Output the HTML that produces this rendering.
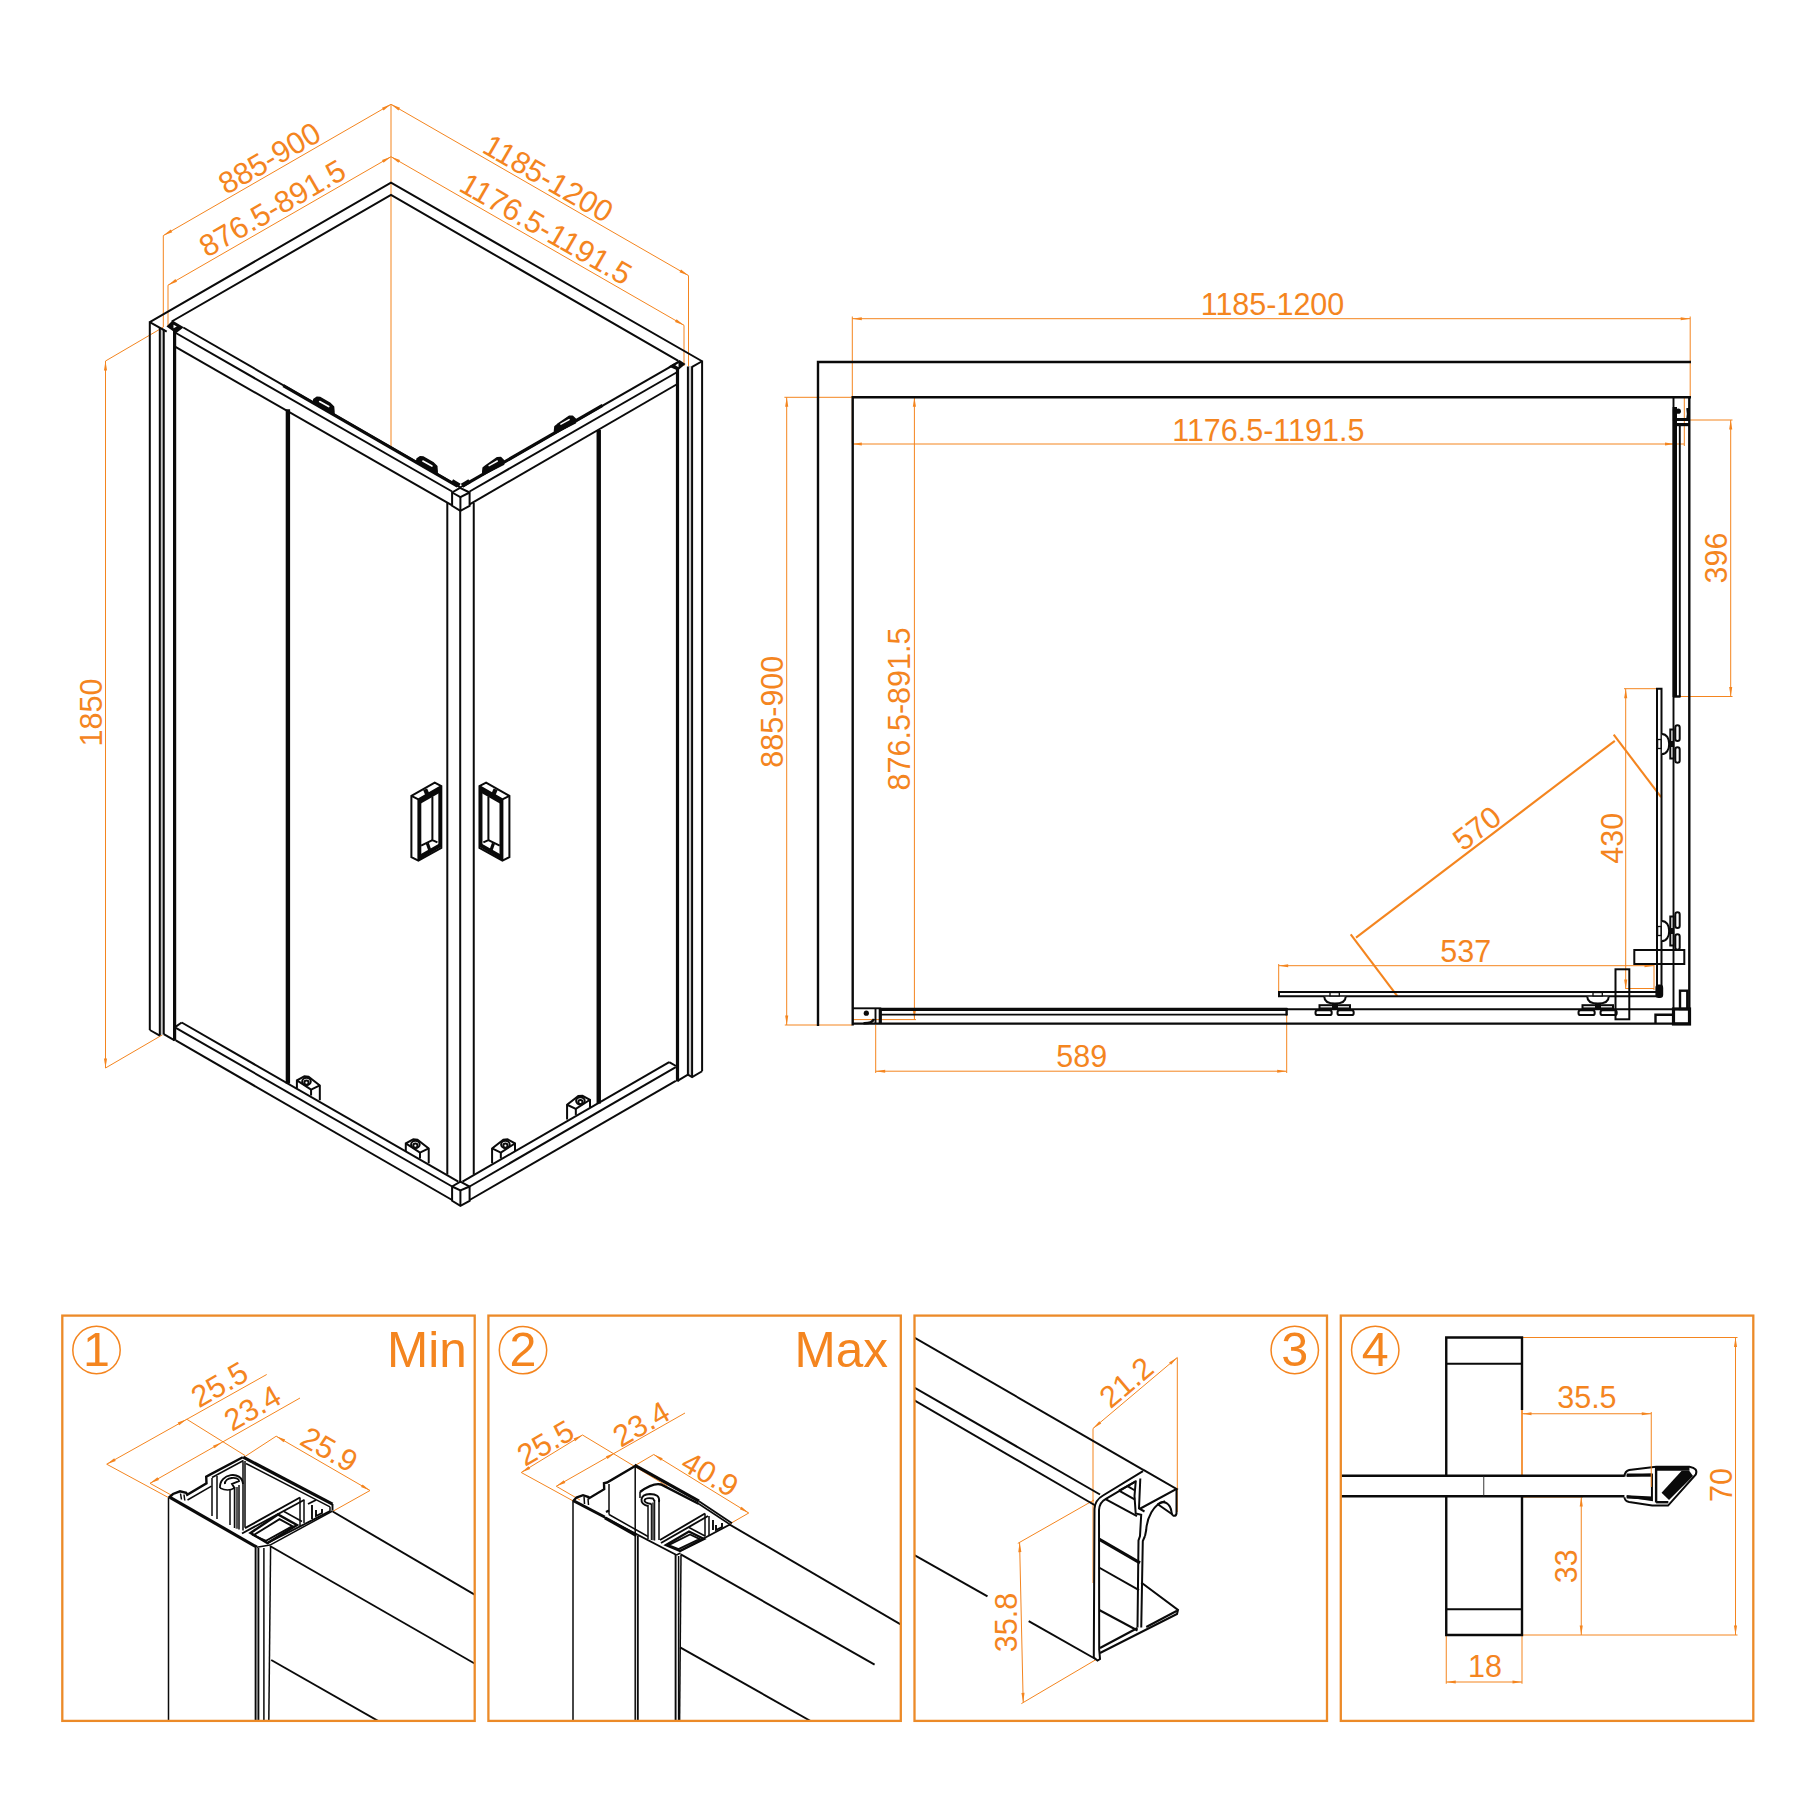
<!DOCTYPE html>
<html lang="en"><head><meta charset="utf-8"><title>Shower enclosure drawing</title>
<style>
html,body{margin:0;padding:0;background:#fff;}
body{width:1800px;height:1800px;overflow:hidden;}
svg{display:block;}
.k{fill:none;stroke:#0a0a0a;stroke-width:2;stroke-linecap:butt;stroke-linejoin:miter;}
.k1{fill:none;stroke:#0a0a0a;stroke-width:1.5;}
.k15{fill:none;stroke:#0a0a0a;stroke-width:1.9;}
.k2{fill:none;stroke:#0a0a0a;stroke-width:2.4;}
.k3{fill:none;stroke:#0a0a0a;stroke-width:3.2;}
.k4{fill:none;stroke:#0a0a0a;stroke-width:4.4;}
.kt{fill:none;stroke:#222;stroke-width:0.9;}
.kf{fill:#0a0a0a;stroke:none;}
.kw{fill:#fff;stroke:#0a0a0a;stroke-width:2;}
.kw1{fill:#fff;stroke:#0a0a0a;stroke-width:1.3;}
.gy{fill:#c8c8c8;stroke:none;}
.o{fill:none;stroke:#F4851F;stroke-width:1;}
.o2{fill:none;stroke:#F4851F;stroke-width:1.7;}
.o25{fill:none;stroke:#F4851F;stroke-width:2.1;}
.af{fill:#F4851F;stroke:none;}
.fr{fill:none;stroke:#EC8A28;stroke-width:2.3;}
.t{fill:#F4851F;font-family:"Liberation Sans",Arial,sans-serif;}
</style></head><body>
<svg width="1800" height="1800" viewBox="0 0 1800 1800">
<rect x="0" y="0" width="1800" height="1800" fill="#fff"/>
<!-- isometric view -->
<path class="o" d="M391.00 104.30L391.00 447.30"/>
<path class="o" d="M163.30 235.60L391.00 104.30"/>
<path class="af" d="M163.30 235.60L170.76 229.51L172.30 232.20Z" />
<path class="af" d="M391.00 104.30L383.54 110.39L382.00 107.70Z" />
<path class="o" d="M163.30 235.60L163.30 327.00"/>
<path class="o" d="M168.00 285.20L391.00 156.70"/>
<path class="af" d="M168.00 285.20L175.46 279.11L177.01 281.80Z" />
<path class="af" d="M391.00 156.70L383.54 162.79L381.99 160.10Z" />
<path class="o" d="M168.00 285.20L168.00 327.00"/>
<path class="o" d="M391.00 104.30L688.50 275.60"/>
<path class="af" d="M391.00 104.30L400.01 107.70L398.46 110.38Z" />
<path class="af" d="M688.50 275.60L679.49 272.20L681.04 269.52Z" />
<path class="o" d="M688.50 275.60L688.50 366.00"/>
<path class="o" d="M391.00 156.70L684.00 325.30"/>
<path class="af" d="M391.00 156.70L400.01 160.09L398.46 162.78Z" />
<path class="af" d="M684.00 325.30L674.99 321.91L676.54 319.22Z" />
<path class="o" d="M684.00 325.30L684.00 366.00"/>
<path class="o" d="M105.50 361.00L105.50 1068.00"/>
<path class="af" d="M105.50 361.00L107.05 370.50L103.95 370.50Z" />
<path class="af" d="M105.50 1068.00L103.95 1058.50L107.05 1058.50Z" />
<path class="o" d="M105.50 361.00L163.30 327.20"/>
<path class="o" d="M105.50 1068.00L162.50 1034.80"/>
<text class="t" font-size="30.5" text-anchor="middle" transform="translate(274.71 167.36) rotate(-30)">885-900</text>
<text class="t" font-size="30.5" text-anchor="middle" transform="translate(277.61 217.36) rotate(-30)">876.5-891.5</text>
<text class="t" font-size="30.5" text-anchor="middle" transform="translate(542.89 187.48) rotate(30)">1185-1200</text>
<text class="t" font-size="30.5" text-anchor="middle" transform="translate(540.79 237.98) rotate(30)">1176.5-1191.5</text>
<text class="t" font-size="30.5" text-anchor="middle" transform="translate(101.72 712.50) rotate(-90)">1850</text>
<path class="k" d="M149.80 322.10L391.00 182.70L702.10 361.25" />
<path class="k" d="M171.70 321.50L391.00 195.00L678.30 360.80" />
<rect class="gy" x="159.80" y="328.00" width="3.95" height="707.00" />
<path class="k" d="M149.80 321.30L149.80 1030.00"/>
<path class="k" d="M159.80 328.00L159.80 1035.40"/>
<path class="k" d="M163.75 329.50L163.75 1034.20"/>
<path class="k3" d="M174.60 331.00L174.60 1040.80"/>
<path class="k" d="M149.80 322.10L166.70 331.60"/>
<path class="k" d="M149.80 1030.00L159.80 1035.60" />
<path class="k" d="M163.75 1034.20L174.60 1040.40" />
<path class="kf" d="M166.50 326.50L172.50 320.60L183.80 327.20L176.00 333.30Z" />
<path class="" d="M173.50 324.80L176.80 326.60L173.50 328.20Z" fill="#fff"/>
<rect class="gy" x="687.90" y="366.00" width="4.20" height="710.00" />
<path class="k3" d="M677.50 364.00L677.50 1081.40"/>
<path class="k" d="M687.90 366.50L687.90 1074.60"/>
<path class="k" d="M692.10 366.70L692.10 1077.00"/>
<path class="k" d="M702.10 360.50L702.10 1071.25"/>
<path class="k" d="M702.10 361.25L691.70 367.20"/>
<path class="k" d="M677.50 1080.80L687.90 1074.60L692.10 1077.00L702.10 1071.25" />
<path class="kf" d="M668.50 366.50L679.50 360.00L685.50 364.00L677.80 370.50Z" />
<path class="" d="M675.30 365.30L678.50 363.30L678.50 367.20Z" fill="#fff"/>
<path class="k" d="M183.30 327.50L460.00 487.20"/>
<path class="k3" d="M283.30 385.60L457.50 486.20"/>
<path class="k" d="M175.00 332.50L452.10 491.50"/>
<path class="k" d="M175.00 346.70L452.10 505.30"/>
<path class="k" d="M460.00 487.50L675.00 364.20"/>
<path class="k3" d="M462.50 486.20L602.50 405.30"/>
<path class="k" d="M469.60 491.50L676.50 372.50"/>
<path class="k" d="M469.60 504.30L676.50 384.50"/>
<path class="kw" d="M460.00 487.90L469.60 492.50L469.60 505.80L460.40 510.80L452.10 505.80L452.10 492.50Z" />
<path class="k" d="M452.10 492.50L460.40 497.10L469.60 492.50" />
<path class="k" d="M460.40 497.10L460.40 510.80"/>
<path class="k" d="M447.30 503.00L447.30 1174.50"/>
<path class="k" d="M460.20 510.80L460.20 1182.00"/>
<path class="k" d="M473.75 503.00L473.75 1174.50"/>
<path class="kw" d="M405.80 1151.28L405.80 1143.37L413.30 1139.37L417.47 1139.62L428.72 1148.37L428.72 1163.20" />
<path class="k" d="M405.80 1143.37L419.97 1152.53L428.72 1148.37" />
<path class="k" d="M419.97 1152.53L419.97 1158.53"/>
<ellipse class="kw" cx="415.38" cy="1144.45" rx="4.3" ry="3.6"/>
<circle class="k" cx="415.38" cy="1145.70" r="2.10" />
<path class="kw" d="M296.90 1088.28L296.90 1080.37L304.40 1076.37L308.57 1076.62L319.82 1085.37L319.82 1100.20" />
<path class="k" d="M296.90 1080.37L311.07 1089.53L319.82 1085.37" />
<path class="k" d="M311.07 1089.53L311.07 1095.53"/>
<ellipse class="kw" cx="306.48" cy="1081.45" rx="4.3" ry="3.6"/>
<circle class="k" cx="306.48" cy="1082.70" r="2.10" />
<path class="kw" d="M515.00 1151.28L515.00 1143.37L507.50 1139.37L503.33 1139.62L492.08 1148.37L492.08 1163.20" />
<path class="k" d="M515.00 1143.37L500.83 1152.53L492.08 1148.37" />
<path class="k" d="M500.83 1152.53L500.83 1158.53"/>
<ellipse class="kw" cx="505.42" cy="1144.45" rx="4.3" ry="3.6"/>
<circle class="k" cx="505.42" cy="1145.70" r="2.10" />
<path class="kw" d="M590.00 1107.68L590.00 1099.77L582.50 1095.77L578.33 1096.02L567.08 1104.77L567.08 1119.60" />
<path class="k" d="M590.00 1099.77L575.83 1108.93L567.08 1104.77" />
<path class="k" d="M575.83 1108.93L575.83 1114.93"/>
<ellipse class="kw" cx="580.42" cy="1100.85" rx="4.3" ry="3.6"/>
<circle class="k" cx="580.42" cy="1102.10" r="2.10" />
<path class="k" d="M181.70 1022.50L458.30 1181.70"/>
<path class="k" d="M175.80 1026.60L181.70 1022.50"/>
<path class="k" d="M175.80 1027.90L452.10 1186.50"/>
<path class="k" d="M175.80 1040.40L452.10 1200.00"/>
<path class="k" d="M462.50 1181.70L669.20 1062.10"/>
<path class="k" d="M669.20 1062.10L676.00 1066.00"/>
<path class="k" d="M469.60 1186.50L675.80 1067.10"/>
<path class="k" d="M469.60 1200.00L675.80 1080.80"/>
<path class="kw" d="M460.40 1181.70L469.60 1186.50L469.60 1200.80L460.40 1205.80L452.10 1200.80L452.10 1186.50Z" />
<path class="k" d="M452.10 1186.50L460.40 1190.50L469.60 1186.50" />
<path class="k" d="M460.40 1190.50L460.40 1205.80"/>
<path class="k4" d="M287.90 409.20L287.90 1083.60"/>
<path class="k4" d="M598.75 430.00L598.75 1103.50"/>
<path class="" d="M313.50 402.20L313.90 399.40L316.80 397.30L320.20 397.60L330.20 403.50L333.50 406.80L333.90 411.60L333.90 414.00Z" fill="#0a0a0a" stroke="#0a0a0a" stroke-width="1.6" stroke-linejoin="round"/>
<path class="" d="M319.70 401.60L328.70 406.60" stroke="#fff" stroke-width="1.7" stroke-linecap="round" fill="none"/>
<path class="" d="M416.70 461.70L417.10 458.90L420.00 456.80L423.40 457.10L433.40 463.00L436.70 466.30L437.10 471.10L437.10 473.50Z" fill="#0a0a0a" stroke="#0a0a0a" stroke-width="1.6" stroke-linejoin="round"/>
<path class="" d="M422.90 461.10L431.90 466.10" stroke="#fff" stroke-width="1.7" stroke-linecap="round" fill="none"/>
<path class="" d="M575.40 422.80L575.40 419.05L572.50 416.20L569.15 416.30L557.50 424.50L555.00 426.55L554.60 430.30L554.60 433.30Z" fill="#0a0a0a" stroke="#0a0a0a" stroke-width="1.6" stroke-linejoin="round"/>
<path class="" d="M569.10 419.60L560.90 424.20" stroke="#fff" stroke-width="1.5" stroke-linecap="round" fill="none"/>
<path class="" d="M503.60 464.20L503.60 460.45L500.70 457.60L497.35 457.70L485.70 465.90L483.20 467.95L482.80 471.70L482.80 474.70Z" fill="#0a0a0a" stroke="#0a0a0a" stroke-width="1.6" stroke-linejoin="round"/>
<path class="" d="M497.30 461.00L489.10 465.60" stroke="#fff" stroke-width="1.5" stroke-linecap="round" fill="none"/>
<path class="k4" d="M452.00 481.20L459.50 485.60"/>
<path class="k4" d="M462.00 485.60L469.50 481.20"/>
<path class="kw" d="M411.39 795.78L434.72 782.56L441.33 786.06L441.33 847.89L418.39 860.72L411.39 857.22Z" />
<path class="k" d="M411.39 795.78L418.39 799.28L441.33 786.06" />
<path class="k" d="M418.39 799.28L418.39 860.72" />
<path class="k3" d="M419.71 800.44L439.93 788.93L439.93 845.95L419.71 857.61Z" />
<path class="k3" d="M419.71 802.39L439.93 790.88" />
<path class="k2" d="M419.71 856.06L439.93 844.62" />
<path class="k" d="M432.39 796.56L432.39 840.11L437.44 842.45" />
<path class="k" d="M421.11 845.56L432.39 840.11" />
<path class="k3" d="M427.33 843.22L430.06 851.00" />
<path class="k4" d="M425.16 789.24L427.33 794.38" />
<path class="kw" d="M509.41 795.78L486.08 782.56L479.47 786.06L479.47 847.89L502.41 860.72L509.41 857.22Z" />
<path class="k" d="M509.41 795.78L502.41 799.28L479.47 786.06" />
<path class="k" d="M502.41 799.28L502.41 860.72" />
<path class="k3" d="M501.09 800.44L480.87 788.93L480.87 845.95L501.09 857.61Z" />
<path class="k3" d="M501.09 802.39L480.87 790.88" />
<path class="k2" d="M501.09 856.06L480.87 844.62" />
<path class="k" d="M488.41 796.56L488.41 840.11L483.36 842.45" />
<path class="k" d="M499.69 845.56L488.41 840.11" />
<path class="k3" d="M493.47 843.22L490.74 851.00" />
<path class="k4" d="M495.64 789.24L493.47 794.38" />
<!-- plan view -->
<path class="o" d="M852.30 318.70L1690.20 318.70"/>
<path class="af" d="M852.30 318.70L861.80 317.15L861.80 320.25Z" />
<path class="af" d="M1690.20 318.70L1680.70 320.25L1680.70 317.15Z" />
<path class="o" d="M852.30 316.50L852.30 443.50"/>
<path class="o" d="M1690.20 316.50L1690.20 397.00"/>
<text class="t" font-size="30.5" text-anchor="middle" transform="translate(1272.50 315.42) rotate(0)">1185-1200</text>
<path class="o" d="M852.30 444.00L1674.50 444.00"/>
<path class="af" d="M852.30 444.00L861.80 442.45L861.80 445.55Z" />
<path class="af" d="M1674.50 444.00L1665.00 445.55L1665.00 442.45Z" />
<path class="o" d="M1684.30 397.00L1684.30 446.00"/>
<path class="o" d="M1673.50 444.00L1684.30 444.00"/>
<text class="t" font-size="30.5" text-anchor="middle" transform="translate(1268.30 441.22) rotate(0)">1176.5-1191.5</text>
<path class="o" d="M786.70 397.30L786.70 1025.00"/>
<path class="af" d="M786.70 397.30L788.25 406.80L785.15 406.80Z" />
<path class="af" d="M786.70 1025.00L785.15 1015.50L788.25 1015.50Z" />
<path class="o" d="M784.40 397.30L852.50 397.30"/>
<path class="o" d="M784.80 1025.00L852.50 1025.00"/>
<text class="t" font-size="30.5" text-anchor="middle" transform="translate(782.62 711.70) rotate(-90)">885-900</text>
<path class="o" d="M914.40 397.30L914.40 1019.60"/>
<path class="af" d="M914.40 397.30L915.95 406.80L912.85 406.80Z" />
<path class="af" d="M914.40 1019.60L912.85 1010.10L915.95 1010.10Z" />
<path class="o" d="M852.50 1019.60L916.00 1019.60"/>
<path class="o" d="M904.00 397.30L916.00 397.30"/>
<text class="t" font-size="30.5" text-anchor="middle" transform="translate(910.22 709.00) rotate(-90)">876.5-891.5</text>
<path class="o" d="M1730.70 420.00L1730.70 696.50"/>
<path class="af" d="M1730.70 420.00L1732.25 429.50L1729.15 429.50Z" />
<path class="af" d="M1730.70 696.50L1729.15 687.00L1732.25 687.00Z" />
<path class="o" d="M1690.00 420.00L1732.50 420.00"/>
<path class="o" d="M1680.00 696.50L1732.50 696.50"/>
<text class="t" font-size="30.5" text-anchor="middle" transform="translate(1726.72 558.00) rotate(-90)">396</text>
<path class="o" d="M1625.70 688.70L1625.70 989.00"/>
<path class="af" d="M1625.70 688.70L1627.25 698.20L1624.15 698.20Z" />
<path class="af" d="M1625.70 989.00L1624.15 979.50L1627.25 979.50Z" />
<path class="o" d="M1624.00 688.70L1657.00 688.70"/>
<path class="o" d="M1625.70 988.50L1654.00 988.50"/>
<text class="t" font-size="30.5" text-anchor="middle" transform="translate(1623.42 838.30) rotate(-90)">430</text>
<path class="o" d="M1278.70 965.70L1654.00 965.70"/>
<path class="af" d="M1278.70 965.70L1288.20 964.15L1288.20 967.25Z" />
<path class="af" d="M1654.00 965.70L1644.50 967.25L1644.50 964.15Z" />
<path class="o" d="M1278.70 964.00L1278.70 996.00"/>
<path class="o" d="M1654.00 964.00L1654.00 990.00"/>
<text class="t" font-size="30.5" text-anchor="middle" transform="translate(1465.80 961.72) rotate(0)">537</text>
<path class="o" d="M875.70 1071.20L1286.70 1071.20"/>
<path class="af" d="M875.70 1071.20L885.20 1069.65L885.20 1072.75Z" />
<path class="af" d="M1286.70 1071.20L1277.20 1072.75L1277.20 1069.65Z" />
<path class="o" d="M875.70 1025.00L875.70 1073.00"/>
<path class="o" d="M1286.70 1014.00L1286.70 1073.00"/>
<text class="t" font-size="30.5" text-anchor="middle" transform="translate(1081.70 1066.72) rotate(0)">589</text>
<path class="o25" d="M1356.00 937.70L1614.80 740.80"/>
<path class="o25" d="M1613.70 734.60L1661.10 797.20"/>
<path class="o25" d="M1350.70 934.30L1397.30 996.20"/>
<text class="t" font-size="30.5" text-anchor="middle" transform="translate(1483.32 836.69) rotate(-37.3)">570</text>
<path class="k2" d="M818.00 1026.00L818.00 362.00L1691.00 362.00" />
<path class="k2" d="M852.70 1025.50L852.70 397.30L1691.00 397.30" />
<path class="k2" d="M852.90 1023.60L1690.00 1023.60"/>
<path class="k" d="M881.00 1009.20L1674.00 1009.20"/>
<path class="k15" d="M852.90 1008.30L881.20 1008.30" />
<path class="k3" d="M880.30 1008.30L880.30 1024.00"/>
<path class="k15" d="M875.50 1008.30L875.50 1024.00"/>
<circle class="kf" cx="866.30" cy="1013.20" r="2.60" />
<path class="k2" d="M863.5 1023.2 Q872 1023.5 874 1019" />
<path class="k3" d="M881.00 1009.30L1287.30 1009.30"/>
<path class="k15" d="M881.00 1014.60L1287.30 1014.60"/>
<path class="k2" d="M1286.60 1008.00L1286.60 1015.40"/>
<path class="k" d="M1657 992 L1279 992 L1279 996.3 L1657 996.3" />
<path class="kw" d="M1324.3 996.8 C1324.3 1001.5 1329 1003.6 1335 1003.6 C1341 1003.6 1345.7 1001.5 1345.7 996.8" />
<rect class="kw1" x="1330.00" y="992.50" width="9.30" height="3.40" />
<rect class="kw" x="1319.50" y="1005.20" width="30.50" height="3.20" />
<rect class="kf" x="1332.00" y="1003.60" width="6.00" height="5.00" />
<rect class="kw" x="1315.50" y="1010.30" width="16.20" height="4.80" rx="2.2"/>
<rect class="kw" x="1337.50" y="1010.30" width="16.20" height="4.80" rx="2.2"/>
<path class="kw" d="M1587.3 996.8 C1587.3 1001.5 1592 1003.6 1598 1003.6 C1604 1003.6 1608.7 1001.5 1608.7 996.8" />
<rect class="kw1" x="1593.00" y="992.50" width="9.30" height="3.40" />
<rect class="kw" x="1582.50" y="1005.20" width="30.50" height="3.20" />
<rect class="kf" x="1595.00" y="1003.60" width="6.00" height="5.00" />
<rect class="kw" x="1578.50" y="1010.30" width="16.20" height="4.80" rx="2.2"/>
<rect class="kw" x="1600.50" y="1010.30" width="16.20" height="4.80" rx="2.2"/>
<path class="k2" d="M1689.30 396.90L1689.30 1024.00"/>
<path class="k15" d="M1673.50 397.00L1673.50 1024.00"/>
<path class="k4" d="M1674.80 407.00L1674.80 697.00"/>
<path class="k15" d="M1679.80 425.00L1679.80 697.00"/>
<path class="k2" d="M1674.00 696.50L1680.50 696.50"/>
<path class="k3" d="M1674.5 409 L1674.5 419.5 L1689 419.5" />
<path class="k3" d="M1674.00 424.60L1689.00 424.60"/>
<circle class="kf" cx="1678.30" cy="411.20" r="2.60" />
<path class="k3" d="M1687.8 408 Q1689 414 1687.8 419" />
<path class="k" d="M1657 990 L1657 688.8 L1661.5 688.8 L1661.5 990" />
<rect class="kf" x="1655.40" y="984.60" width="7.80" height="13.40" rx="3.2"/>
<path class="kw" d="M1661.9 734 C1666.5 734 1669.2 738.5 1669.2 744 C1669.2 749.5 1666.5 754 1661.9 754" />
<rect class="kw1" x="1657.60" y="739.50" width="3.40" height="9.00" />
<rect class="kw" x="1670.30" y="729.50" width="3.20" height="29.00" />
<rect class="kf" x="1668.60" y="741.00" width="5.00" height="6.00" />
<rect class="kw" x="1675.30" y="725.30" width="4.40" height="15.60" rx="2.2"/>
<rect class="kw" x="1675.30" y="747.20" width="4.40" height="15.60" rx="2.2"/>
<path class="kw" d="M1661.9 921 C1666.5 921 1669.2 925.5 1669.2 931 C1669.2 936.5 1666.5 941 1661.9 941" />
<rect class="kw1" x="1657.60" y="926.50" width="3.40" height="9.00" />
<rect class="kw" x="1670.30" y="916.50" width="3.20" height="29.00" />
<rect class="kf" x="1668.60" y="928.00" width="5.00" height="6.00" />
<rect class="kw" x="1675.30" y="912.30" width="4.40" height="15.60" rx="2.2"/>
<rect class="kw" x="1675.30" y="934.20" width="4.40" height="15.60" rx="2.2"/>
<rect class="k" x="1634.30" y="950.00" width="50.00" height="14.00" />
<rect class="k" x="1615.50" y="969.30" width="13.80" height="50.00" />
<rect class="k3" x="1673.50" y="1009.00" width="16.00" height="15.00" />
<rect class="k2" x="1680.00" y="990.70" width="7.30" height="18.30" />
<path class="k2" d="M1655.5 1023.3 L1655.5 1014.8 L1673.3 1014.8" />
<!-- detail panels -->
<clipPath id="cp0"><rect x="62.3" y="1315.6" width="412.4" height="405.3000000000002"/></clipPath>
<g clip-path="url(#cp0)">
<path class="o" d="M106.70 1464.20L168.30 1497.50"/>
<path class="o" d="M186.70 1419.20L245.00 1455.50"/>
<path class="o" d="M106.70 1464.20L266.70 1374.50"/>
<path class="af" d="M106.70 1464.20L114.23 1458.20L115.74 1460.90Z" />
<path class="af" d="M186.70 1419.20L179.17 1425.20L177.66 1422.50Z" />
<path class="o" d="M150.00 1483.30L300.00 1398.00"/>
<path class="o" d="M150.00 1483.30L172.50 1495.80"/>
<path class="af" d="M150.00 1483.30L157.48 1477.25L159.02 1479.94Z" />
<path class="af" d="M222.00 1442.30L214.52 1448.35L212.98 1445.66Z" />
<path class="o" d="M245.00 1456.50L276.20 1436.20"/>
<path class="o" d="M276.20 1436.20L370.00 1490.50"/>
<path class="o" d="M332.50 1511.50L370.00 1490.50"/>
<path class="af" d="M276.20 1436.20L285.20 1439.61L283.65 1442.29Z" />
<path class="af" d="M370.00 1490.50L361.00 1487.09L362.55 1484.41Z" />
<text class="t" font-size="30.5" text-anchor="middle" transform="translate(224.76 1393.63) rotate(-30)">25.5</text>
<text class="t" font-size="30.5" text-anchor="middle" transform="translate(257.66 1417.13) rotate(-30)">23.4</text>
<text class="t" font-size="30.5" text-anchor="middle" transform="translate(324.04 1458.49) rotate(30)">25.9</text>
<path class="k1" d="M168.50 1498.00L168.50 1722.00"/>
<path class="k15" d="M332.70 1511.50L476.00 1595.50"/>
<path class="k15" d="M270.00 1546.00L476.00 1664.30"/>
<path class="k15" d="M271.20 1660.00L380.00 1722.00"/>
<path class="k15" d="M255.60 1548.00L255.60 1722.00"/>
<path class="k15" d="M258.40 1548.00L258.40 1722.00"/>
<path class="k1" d="M263.90 1548.00L263.90 1722.00"/>
<path class="k1" d="M270.60 1546.50L268.80 1722.00"/>
<path class="k3" d="M170.00 1497.30L256.80 1547.20" />
<path class="k1" d="M256.80 1547.20L270.00 1545.00" />
<path class="k2" d="M168.50 1497.80L173.00 1494.00L180.00 1491.30L186.20 1492.80L187.20 1494.80L206.50 1483.40L206.20 1476.60L210.00 1474.60L242.80 1457.20" />
<path class="k1" d="M180.50 1493.50L181.50 1499.50" />
<path class="k1" d="M184.00 1494.50L184.80 1500.50" />
<path class="k1" d="M187.50 1500.00L211.50 1486.20" />
<path class="k1" d="M212.00 1477.50L243.50 1460.50" />
<path class="k3" d="M243.20 1457.20L332.50 1504.20" />
<path class="k1" d="M246.00 1463.50L330.00 1506.80" />
<path class="k15" d="M332.50 1504.00L332.50 1510.50" />
<path class="k1" d="M330.00 1506.80L330.00 1511.20" />
<path class="k1" d="M245.00 1461.00L245.00 1527.50"/>
<path class="k1" d="M212.00 1478.00L212.00 1516.00"/>
<path class="k1" d="M217.00 1476.00L217.00 1519.00"/>
<path class="k1" d="M230.00 1490.00L230.00 1525.00"/>
<path class="k1" d="M234.50 1487.00L234.50 1528.00"/>
<path class="k1" d="M239.00 1485.00L239.00 1529.50"/>
<path class="k1" d="M243.00 1461.50L243.00 1530.50"/>
<path d="M236.80 1487.00L236.80 1528.80" stroke="#555" stroke-width="2.4" fill="none"/>
<path class="k15" d="M220.0 1488.0 C219.0 1473.0 242.0 1470.0 243.0 1484.0" />
<path class="k15" d="M225.0 1484.0 C224.0 1477.0 239.0 1476.0 239.0 1481.0 L232.0 1484.0 L234.5 1488.0" />
<path class="k1" d="M220.0 1488.0 Q228.0 1492.0 234.5 1488.0" />
<path class="k15" d="M300.00 1497.50L245.00 1528.20" />
<path class="k15" d="M304.00 1500.00L242.00 1533.50" />
<path class="k2" d="M250.50 1533.00L278.00 1514.50L297.00 1525.00L267.50 1543.00Z" />
<path class="k15" d="M253.50 1535.20L279.50 1519.20L292.50 1526.20L266.00 1540.80Z" />
<path class="k1" d="M284.00 1511.50L302.00 1521.50" />
<path class="k1" d="M304.00 1499.50L304.00 1523.00" />
<path class="k1" d="M300.00 1497.50L300.00 1526.00" />
<path class="k15" d="M312.00 1505.00L312.00 1519.00" />
<path class="k15" d="M308.00 1504.00L316.00 1500.00" />
<path class="k15" d="M316.00 1510.00L316.00 1516.00L322.00 1513.00L322.00 1509.00" />
<path class="k15" d="M267.50 1543.00L330.00 1511.20" />
<path class="k1" d="M270.00 1545.20L332.50 1511.00" />
</g>
<rect class="fr" x="62.30" y="1315.60" width="412.40" height="405.30" />
<circle class="o" cx="96.50" cy="1350.00" r="23.70" style="stroke-width:1.5"/>
<text class="t" font-size="48.4" text-anchor="middle" transform="translate(96.50 1366.00) rotate(0)">1</text>
<text class="t" font-size="49.5" text-anchor="end" transform="translate(466.80 1367.00) rotate(0)">Min</text>
<clipPath id="cp1"><rect x="488.4" y="1315.6" width="412.4" height="405.3000000000002"/></clipPath>
<g clip-path="url(#cp1)">
<path class="o" d="M521.25 1472.50L573.75 1501.25"/>
<path class="o" d="M582.50 1435.00L667.50 1486.25"/>
<path class="o" d="M521.25 1472.50L582.50 1435.00"/>
<path class="af" d="M521.25 1472.50L528.59 1466.28L530.19 1468.94Z" />
<path class="af" d="M582.50 1435.00L575.16 1441.22L573.56 1438.56Z" />
<path class="o" d="M556.25 1486.25L685.00 1413.00"/>
<path class="o" d="M556.25 1486.25L580.00 1500.00"/>
<path class="af" d="M556.25 1486.25L563.81 1480.29L565.31 1483.00Z" />
<path class="af" d="M615.00 1453.00L607.49 1459.03L605.97 1456.33Z" />
<path class="o" d="M633.75 1466.25L653.75 1454.50"/>
<path class="o" d="M653.75 1454.50L748.75 1513.00"/>
<path class="o" d="M730.00 1523.75L748.75 1513.00"/>
<path class="af" d="M653.75 1454.50L662.66 1458.14L661.04 1460.79Z" />
<path class="af" d="M748.75 1513.00L739.84 1509.36L741.46 1506.71Z" />
<text class="t" font-size="30.5" text-anchor="middle" transform="translate(550.71 1452.22) rotate(-30)">25.5</text>
<text class="t" font-size="30.5" text-anchor="middle" transform="translate(646.46 1433.22) rotate(-30)">23.4</text>
<text class="t" font-size="30.5" text-anchor="middle" transform="translate(704.79 1483.22) rotate(30)">40.9</text>
<path class="k1" d="M573.00 1501.00L573.00 1722.00"/>
<path class="k1" d="M635.20 1465.00L635.20 1722.00"/>
<path class="k15" d="M637.80 1536.00L637.80 1722.00"/>
<path class="k15" d="M675.60 1554.00L675.60 1722.00"/>
<path class="k1" d="M678.60 1556.00L678.60 1722.00"/>
<path class="k1" d="M681.00 1554.50L679.60 1722.00"/>
<path class="k15" d="M729.40 1524.40L902.00 1625.30"/>
<path class="k15" d="M680.80 1554.30L874.60 1664.70"/>
<path class="k15" d="M680.10 1647.40L811.50 1721.50"/>
<path class="k15" d="M573.20 1501.20L676.50 1555.00" />
<path class="k3" d="M605.00 1517.80L636.50 1535.50" />
<path class="k1" d="M573.50 1500.00L605.00 1516.50" />
<path class="k2" d="M573.00 1501.20L576.50 1497.50L583.00 1495.20L588.50 1497.00L589.20 1498.20L604.20 1489.20L604.00 1483.20L607.00 1482.50L634.80 1466.20" />
<path class="k1" d="M584.00 1496.50L584.50 1504.00" />
<path class="k1" d="M588.00 1498.50L588.50 1505.00" />
<path class="k1" d="M609.00 1484.00L609.00 1514.50" />
<path class="k2" d="M606.00 1512.00L609.00 1510.50" />
<path class="k1" d="M609.00 1514.50L648.00 1536.50" />
<path class="k3" d="M634.50 1465.20L699.00 1501.20" />
<path class="k15" d="M699.00 1501.20L732.00 1523.20" />
<path class="k1" d="M699.00 1504.00L730.00 1524.50" />
<path class="k2" d="M640.0 1492.0 Q653.0 1482.5 661.0 1484.5 L699.0 1504.0" />
<path class="k1" d="M640.00 1492.00L640.00 1498.00" />
<path class="k1" d="M648.00 1505.00L648.00 1539.00"/>
<path class="k1" d="M651.50 1504.00L651.50 1540.00"/>
<path class="k1" d="M654.50 1500.00L654.50 1540.50"/>
<path class="k1" d="M659.00 1499.00L659.00 1540.00"/>
<path d="M653.00 1502.50L653.00 1540.20" stroke="#555" stroke-width="2.4" fill="none"/>
<path class="k15" d="M648.0 1506.0 C639.0 1504.0 639.0 1494.5 650.0 1494.0 C656.0 1494.0 660.0 1496.0 659.0 1502.0" />
<path class="k15" d="M651.5 1504.0 C641.0 1503.0 643.0 1497.0 653.0 1498.5 L654.5 1501.0" />
<path class="k15" d="M705.00 1513.50L660.00 1540.00" />
<path class="k15" d="M708.00 1516.00L661.00 1543.00" />
<path class="k2" d="M666.00 1545.00L689.00 1531.50L704.00 1539.00L680.00 1551.00Z" />
<path class="k15" d="M668.50 1545.20L690.00 1534.50L699.50 1539.00L678.50 1549.20Z" />
<path class="k1" d="M689.00 1527.50L705.00 1536.00" />
<path class="k1" d="M709.00 1516.00L709.00 1536.00" />
<path class="k1" d="M705.00 1513.50L705.00 1536.50" />
<path class="k15" d="M713.00 1520.00L713.00 1530.00" />
<path class="k15" d="M716.00 1525.00L716.00 1530.00L722.00 1527.00L722.00 1523.00" />
<path class="k15" d="M680.00 1551.00L730.00 1524.50" />
<path class="k1" d="M676.50 1555.00L680.50 1553.00" />
</g>
<rect class="fr" x="488.40" y="1315.60" width="412.40" height="405.30" />
<circle class="o" cx="523.00" cy="1350.10" r="23.70" style="stroke-width:1.5"/>
<text class="t" font-size="48.4" text-anchor="middle" transform="translate(523.00 1366.10) rotate(0)">2</text>
<text class="t" font-size="49.5" text-anchor="end" transform="translate(888.10 1367.00) rotate(0)">Max</text>
<clipPath id="cp2"><rect x="914.5" y="1315.6" width="412.5" height="405.3000000000002"/></clipPath>
<g clip-path="url(#cp2)">
<path class="o" d="M1093.00 1428.50L1093.00 1583.00"/>
<path class="o" d="M1177.30 1357.50L1177.30 1512.00"/>
<path class="o" d="M1093.00 1428.50L1177.30 1357.50"/>
<path class="af" d="M1093.00 1428.50L1099.27 1421.19L1101.26 1423.57Z" />
<path class="af" d="M1177.30 1357.50L1171.03 1364.81L1169.04 1362.43Z" />
<path class="o" d="M1019.60 1542.60L1023.20 1702.40"/>
<path class="af" d="M1019.60 1542.60L1021.36 1552.06L1018.26 1552.13Z" />
<path class="af" d="M1023.20 1702.40L1021.44 1692.94L1024.54 1692.87Z" />
<path class="o" d="M1017.80 1543.40L1094.00 1500.00"/>
<path class="o" d="M1021.40 1703.60L1097.00 1659.00"/>
<text class="t" font-size="30.5" text-anchor="middle" transform="translate(1133.13 1390.42) rotate(-40)">21.2</text>
<text class="t" font-size="30.5" text-anchor="middle" transform="translate(1017.17 1622.50) rotate(-90)">35.8</text>
<path class="k" d="M913.00 1336.80L1143.20 1469.80"/>
<path class="k" d="M913.00 1386.80L1100.00 1494.50"/>
<path class="k" d="M913.00 1399.60L1094.50 1505.00"/>
<path class="k" d="M913.00 1554.30L987.50 1596.30"/>
<path class="k" d="M1028.70 1621.20L1095.50 1659.00"/>
<path class="k" d="M1093.8 1657.5 L1094.5 1509.0 Q1095.0 1500.0 1103.0 1495.5 L1143.0 1471.2" />
<path class="k" d="M1099.2 1650.0 L1099.0 1510.0 Q1099.5 1502.5 1105.5 1499.2 L1136.0 1481.2" />
<path class="k" d="M1093.75 1657.50L1097.50 1660.50L1100.00 1659.00L1099.25 1650.00" />
<path class="k" d="M1143.00 1469.70L1176.50 1489.00L1139.50 1509.00" />
<path class="k" d="M1176.5 1489.0 L1176.5 1513.5 Q1176.0 1516.2 1173.5 1515.8 Q1171.8 1515.0 1171.5 1512.0 C1170.5 1504.0 1164.0 1499.0 1157.5 1504.5" />
<path class="k" d="M1158.50 1504.80L1172.50 1514.50" />
<path class="k" d="M1165.0 1501.2 C1153.0 1504.0 1147.0 1518.0 1146.2 1530.0 L1145.0 1536.0" />
<path class="k" d="M1135.80 1480.50L1134.50 1496.00L1135.70 1513.50L1141.20 1514.80L1140.00 1536.00L1138.50 1540.50L1137.50 1627.50" />
<path class="k" d="M1140.30 1478.50L1139.00 1508.50L1144.50 1511.50" />
<path class="k" d="M1145.00 1536.00L1142.80 1541.00L1141.25 1627.50" />
<path class="k" d="M1105.50 1499.20L1137.00 1516.20" />
<path class="k" d="M1119.00 1490.70L1135.00 1481.80" />
<path class="k" d="M1119.00 1490.70L1135.00 1499.70" />
<path class="k" d="M1127.50 1486.20L1135.00 1490.50" />
<path class="k3" d="M1099.00 1539.20L1140.00 1562.80" />
<path class="k" d="M1099.00 1567.50L1139.00 1590.20" />
<path class="k" d="M1099.25 1610.00L1137.50 1630.50" />
<path class="k" d="M1100.00 1648.00L1137.50 1628.00" />
<path class="k" d="M1141.25 1582.50L1178.00 1610.00L1177.00 1614.00L1100.00 1653.00" />
<path class="k" d="M1146.25 1627.00L1177.00 1610.75" />
</g>
<rect class="fr" x="914.50" y="1315.60" width="412.50" height="405.30" />
<circle class="o" cx="1294.75" cy="1350.00" r="23.70" style="stroke-width:1.5"/>
<text class="t" font-size="48.4" text-anchor="middle" transform="translate(1294.75 1366.00) rotate(0)">3</text>
<path class="o" d="M1522.00 1337.50L1737.50 1337.50"/>
<path class="o" d="M1522.00 1635.00L1737.50 1635.00"/>
<path class="o" d="M1735.50 1337.50L1735.50 1635.00"/>
<path class="af" d="M1735.50 1337.50L1737.05 1347.00L1733.95 1347.00Z" />
<path class="af" d="M1735.50 1635.00L1733.95 1625.50L1737.05 1625.50Z" />
<path class="o" d="M1522.00 1413.75L1651.25 1413.75"/>
<path class="af" d="M1522.00 1413.75L1531.50 1412.20L1531.50 1415.30Z" />
<path class="af" d="M1651.25 1413.75L1641.75 1415.30L1641.75 1412.20Z" />
<path class="o2" d="M1522.00 1410.00L1522.00 1475.00"/>
<path class="o" d="M1522.00 1497.00L1583.00 1497.00"/>
<path class="o" d="M1581.25 1497.00L1581.25 1635.00"/>
<path class="af" d="M1581.25 1497.00L1582.80 1506.50L1579.70 1506.50Z" />
<path class="af" d="M1581.25 1635.00L1579.70 1625.50L1582.80 1625.50Z" />
<path class="o" d="M1446.25 1682.00L1522.00 1682.00"/>
<path class="af" d="M1446.25 1682.00L1455.75 1680.45L1455.75 1683.55Z" />
<path class="af" d="M1522.00 1682.00L1512.50 1683.55L1512.50 1680.45Z" />
<path class="o" d="M1446.25 1635.00L1446.25 1683.75"/>
<path class="o" d="M1522.00 1635.00L1522.00 1683.75"/>
<text class="t" font-size="30.5" text-anchor="middle" transform="translate(1586.90 1408.42) rotate(0)">35.5</text>
<text class="t" font-size="30.5" text-anchor="middle" transform="translate(1731.52 1485.00) rotate(-90)">70</text>
<text class="t" font-size="30.5" text-anchor="middle" transform="translate(1576.72 1566.20) rotate(-90)">33</text>
<text class="t" font-size="30.5" text-anchor="middle" transform="translate(1485.00 1676.92) rotate(0)">18</text>
<path class="k2" d="M1446.25 1476.25L1446.25 1337.50L1522.00 1337.50L1522.00 1410.00" />
<path class="k2" d="M1522.00 1475.00L1522.00 1477.00"/>
<path class="k2" d="M1446.25 1497.00L1446.25 1635.00L1522.00 1635.00L1522.00 1497.00" />
<path class="k" d="M1446.25 1363.75L1522.00 1363.75"/>
<path class="k" d="M1446.25 1609.25L1522.00 1609.25"/>
<path class="k2" d="M1340.50 1475.80L1626.00 1475.80"/>
<path class="k2" d="M1340.50 1496.30L1626.00 1496.30"/>
<path class="kt" d="M1483.75 1475.80L1483.75 1496.30"/>
<path class="kw" d="M1624.44 1476.67 Q1624.72 1471.11 1629.17 1470.00 L1656.11 1466.67 L1689.44 1466.67 Q1698.33 1468.33 1695.83 1474.44 L1668.06 1505.56 L1652.22 1505.56 L1629.17 1501.94 Q1624.72 1501.11 1624.44 1497.22" />
<path class="kf" d="M1656.11 1466.67 L1689.44 1466.67 L1689.44 1470.83 L1656.11 1470.83Z" />
<path class="k2" d="M1656.11 1466.67L1656.11 1502.50"/>
<path class="k2" d="M1656.11 1502.22L1668.33 1502.22"/>
<path class="kf" d="M1681.67 1470.67 1689.17 1470.67 1693.06 1476.00 1669.00 1500.11 1661.56 1492.78Z" />
<path class="k" d="M1626.67 1475.83 L1651.94 1474.44 L1651.94 1500.00 L1626.67 1496.22" />
<path class="k3" d="M1626.67 1475.11L1651.94 1475.11"/>
<path class="k3" d="M1626.67 1496.94L1651.94 1498.22"/>
<path class="o" d="M1651.25 1412.00L1651.25 1487.00"/>
<rect class="fr" x="1340.80" y="1315.60" width="412.50" height="405.30" />
<circle class="o" cx="1375.25" cy="1350.00" r="23.70" style="stroke-width:1.5"/>
<text class="t" font-size="48.4" text-anchor="middle" transform="translate(1375.25 1366.00) rotate(0)">4</text>
</svg>
</body></html>
